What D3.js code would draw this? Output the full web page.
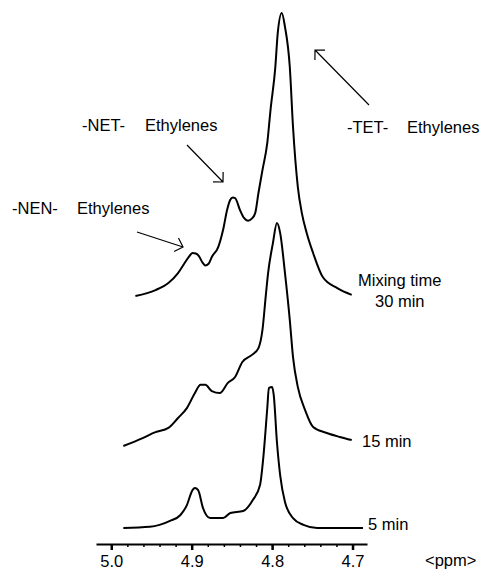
<!DOCTYPE html>
<html>
<head>
<meta charset="utf-8">
<script src="https://cdn.jsdelivr.net/npm/d3@7"></script>
<style>
  body { margin: 0; background: #fff; }
  svg { display: block; }
  text { font-family: "Liberation Sans", Arial, sans-serif; font-size: 16.5px; fill: #000; }
  .trace { fill: none; stroke: #000; stroke-width: 2; stroke-linejoin: round; }
  .arrow { fill: none; stroke: #000; stroke-width: 1.2; }
</style>
</head>
<body>
<svg id="chart" width="487" height="573"></svg>
<script>
// spectra, [ppm, intensity a.u.] (30 min main peak = 100)
var spec30 = [[4.970,0],[4.945,2.1],[4.929,4.6],[4.917,8.1],[4.908,12.0],[4.902,14.4],[4.899,15.2],[4.895,15.0],[4.891,14.1],
  [4.887,12.0],[4.883,10.8],[4.879,11.4],[4.875,13.8],[4.867,17.3],[4.861,23.3],[4.856,30.4],[4.852,34.0],[4.849,34.8],[4.846,34.6],
  [4.840,30.4],[4.835,27.6],[4.830,26.6],[4.825,27.4],[4.821,29.3],[4.817,36.4],[4.812,44.5],[4.806,54.1],[4.802,65.7],
  [4.796,80.9],[4.793,92.9],[4.788,100],[4.784,95.1],[4.778,80.9],[4.774,59.7],[4.768,38.5],
  [4.763,29.3],[4.757,22.3],[4.749,15.2],[4.737,6.7],[4.719,2.8],[4.701,0.4]];

var spec15 = [[4.985,0],[4.961,2.8],[4.945,4.9],[4.929,6.4],[4.917,9.9],[4.906,13.4],[4.896,18.7],
  [4.889,21.6],[4.883,21.6],[4.875,19.4],[4.865,18.7],[4.855,22.3],[4.846,24.4],[4.837,29.7],
  [4.825,32.2],[4.817,34.6],[4.812,41.0],[4.808,52.7],[4.805,61.1],[4.799,71.7],[4.794,78.8],
  [4.790,75.3],[4.784,61.1],[4.778,44.5],[4.774,31.4],[4.768,20.8],[4.759,12.7],[4.749,6.7],
  [4.732,4.6],[4.716,3.2],[4.701,2.1]];

var spec5 = [[4.985,0],[4.952,0.4],[4.927,2.5],[4.914,4.6],[4.906,8.1],[4.899,13.4],[4.896,14.1],
  [4.892,13.4],[4.886,7.1],[4.877,3.5],[4.861,3.5],[4.852,5.3],[4.836,6.0],[4.824,9.9],
  [4.815,15.2],[4.811,24.7],[4.806,42.4],[4.804,49.5],[4.800,49.8],[4.798,47.0],[4.794,30.4],
  [4.790,18.7],[4.784,9.2],[4.774,3.5],[4.761,1.1],[4.744,0],[4.687,0]];

var tickValues = [5.0, 4.9, 4.8, 4.7];
var tickLabels = ["5.0", "4.9", "4.8", "4.7"];
var minorTicks = [5.0, 4.98, 4.96, 4.94, 4.92, 4.9, 4.88, 4.86, 4.84, 4.82, 4.8, 4.78, 4.76, 4.74, 4.72, 4.7];

var svg = d3.select("#chart");

var x = d3.scaleLinear()
    .domain([5.019, 4.682])
    .range([96, 367]);

// each trace has its own baseline, same intensity scale
var traces = [
  {data: spec30, base: 296},
  {data: spec15, base: 446},
  {data: spec5, base: 528}
];

traces.forEach(function(t) {
  var y = d3.scaleLinear().domain([0, 100]).range([t.base, t.base - 283]);
  var line = d3.line()
    .curve(d3.curveMonotoneX)
    .x(function(d) { return x(d[0]); })
    .y(function(d) { return y(d[1]); });
  svg.append("path")
    .datum(t.data)
    .attr("class", "trace")
    .attr("d", line);
});

// axis
var axisY = 544;
svg.append("g")
  .attr("transform", "translate(0," + axisY + ")")
  .call(d3.axisBottom(x).tickValues(minorTicks).tickSize(3).tickFormat("").tickSizeOuter(0))
  .call(function(g) {
    g.select(".domain").attr("stroke-width", 2);
    g.selectAll(".tick line").attr("stroke-width", 1.5);
  });

var major = svg.append("g")
  .attr("transform", "translate(0," + axisY + ")")
  .call(d3.axisBottom(x).tickValues(tickValues).tickSize(6).tickPadding(5)
    .tickFormat(function(d, i) { return tickLabels[i]; }).tickSizeOuter(0));
major.select(".domain").remove();
major.selectAll(".tick line").attr("stroke-width", 2.5);
major.selectAll(".tick text")
  .attr("font-size", null)
  .attr("font-family", null)
  .style("font-size", "16.5px");

svg.append("text").attr("x", 425).attr("y", 566).text("<ppm>");

// labels
var labels = [
  {t: "-NET-", x: 82, y: 131},
  {t: "Ethylenes", x: 145, y: 131},
  {t: "-NEN-", x: 12, y: 214},
  {t: "Ethylenes", x: 77, y: 214},
  {t: "-TET-", x: 347, y: 133},
  {t: "Ethylenes", x: 407, y: 133},
  {t: "Mixing time", x: 358, y: 286},
  {t: "30 min", x: 375, y: 307},
  {t: "15 min", x: 362, y: 447},
  {t: "5 min", x: 368, y: 530}
];
svg.selectAll("text.lbl")
  .data(labels)
  .enter().append("text")
  .attr("class", "lbl")
  .attr("x", function(d) { return d.x; })
  .attr("y", function(d) { return d.y; })
  .text(function(d) { return d.t; });

// arrows with open heads
var arrows = [
  {x1: 187, y1: 145, x2: 223, y2: 182},
  {x1: 137, y1: 232, x2: 183, y2: 247},
  {x1: 369, y1: 105, x2: 315, y2: 50}
];
arrows.forEach(function(a) {
  var ang = Math.atan2(a.y1 - a.y2, a.x1 - a.x2);
  var len = 10, spread = Math.PI / 4;
  var h1 = [a.x2 + len * Math.cos(ang + spread), a.y2 + len * Math.sin(ang + spread)];
  var h2 = [a.x2 + len * Math.cos(ang - spread), a.y2 + len * Math.sin(ang - spread)];
  svg.append("path")
    .attr("class", "arrow")
    .attr("d", "M" + a.x1 + "," + a.y1 + "L" + a.x2 + "," + a.y2 +
      "M" + h1.join(",") + "L" + a.x2 + "," + a.y2 + "L" + h2.join(","));
});
</script>
</body>
</html>
